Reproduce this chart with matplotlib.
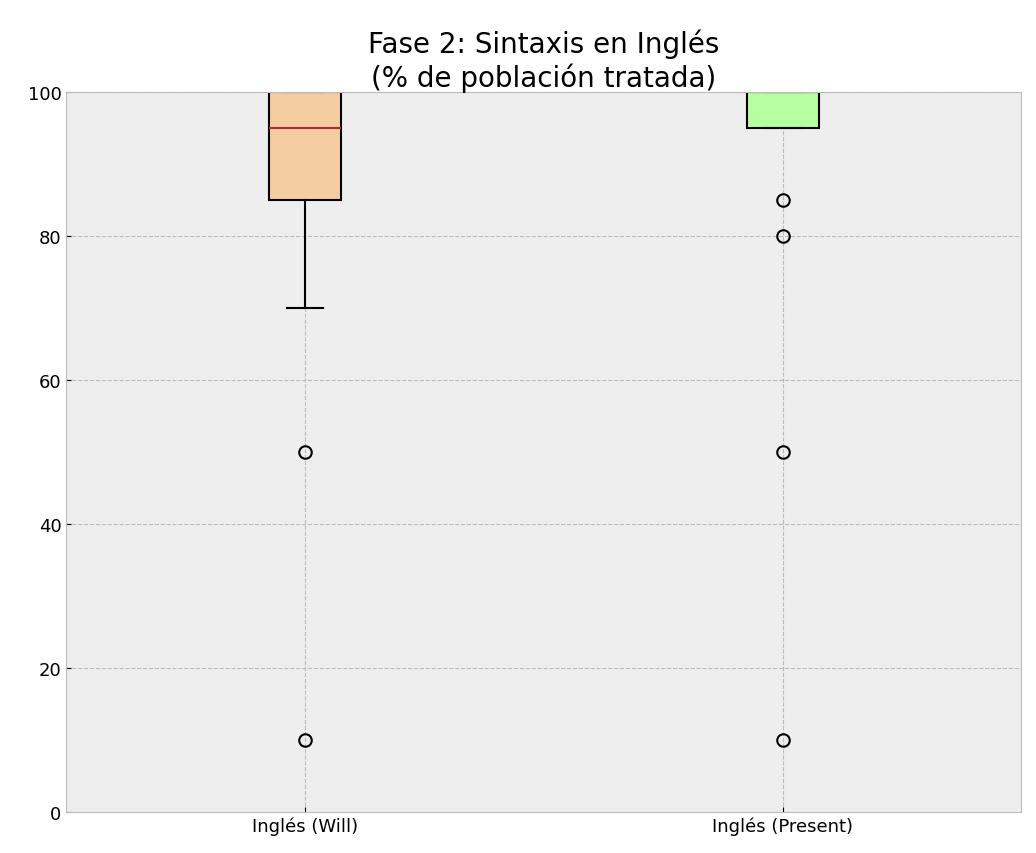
import matplotlib
matplotlib.use("Agg")
import matplotlib.pyplot as plt

plt.style.use("bmh")
labels = ["Inglés (Will)", "Inglés (Present)"]
q1 = [85, 95]
med = [95, 100]
q3 = [100, 100]
wlo = [70, 95]
whi = [100, 100]
fliers = [[50, 10], [85, 80, 50, 10]]
colors = ["#f4cda0", "#b5ffa0"]

stats = [dict(label=labels[i], q1=q1[i], med=med[i], q3=q3[i], whislo=wlo[i],
              whishi=whi[i], fliers=fliers[i]) for i in range(2)]

fig = plt.figure(figsize=(10.36, 8.54), dpi=100)
ax = fig.add_axes([0.064, 0.048, 0.922, 0.843])
bp = ax.bxp(stats, patch_artist=True, widths=0.15,
            medianprops=dict(color="#a52a3a", linewidth=1.5),
            whiskerprops=dict(color="black", linewidth=1.5),
            capprops=dict(color="black", linewidth=1.5),
            flierprops=dict(marker="o", markerfacecolor="none", markeredgecolor="black",
                            markersize=9, markeredgewidth=1.5))
for p, c in zip(bp["boxes"], colors):
    p.set_facecolor(c)
    p.set_edgecolor("black")
    p.set_linewidth(1.5)
ax.set_ylim(0, 100)
ax.set_xlim(0.5, 2.5)
ax.set_facecolor("#eeeeee")
ax.grid(True, linestyle="--", color="#bbbbbb", linewidth=0.8)
ax.tick_params(labelsize=13)
ax.set_title("Fase 2: Sintaxis en Inglés\n(% de población tratada)", fontsize=20, pad=4)
fig.savefig("out.png", dpi=100, facecolor="white")
